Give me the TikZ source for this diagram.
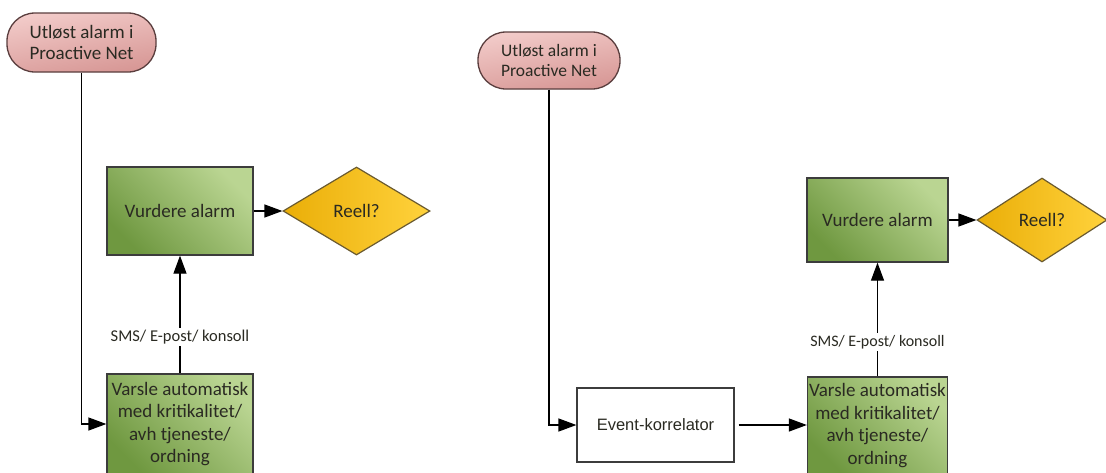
\documentclass[tikz,border=0pt]{standalone}
\usepackage{fontspec}
\setmainfont{Carlito}
\newfontfamily\arialfont{Liberation Sans}
\usetikzlibrary{shapes.geometric,arrows.meta}

\definecolor{termtop}{HTML}{F2CBC9}
\definecolor{termbot}{HTML}{D79795}
\definecolor{termline}{HTML}{5A3E3E}
\definecolor{greenlight}{HTML}{BAD592}
\definecolor{greendark}{HTML}{6F9840}
\definecolor{boxline}{HTML}{3C3C3C}
\definecolor{goldlight}{HTML}{FFD23C}
\definecolor{golddark}{HTML}{EAAE08}
\definecolor{goldline}{HTML}{6A5A30}
\definecolor{inktext}{HTML}{2A2A22}

\tikzset{
  terminal/.style={draw=termline, line width=1.3pt, rounded corners=28pt,
    top color=termtop, bottom color=termbot, shading angle=10,
    align=center, font=\fontsize{19}{20.5}\selectfont, text=inktext, inner sep=0pt},
  process/.style={draw=boxline, line width=1.3pt,
    top color=greenlight, bottom color=greendark, shading angle=-45,
    align=center, font=\fontsize{19}{22.5}\selectfont, text=inktext, inner sep=0pt},
  decision/.style={diamond, draw=goldline, line width=1.2pt,
    left color=golddark, right color=goldlight,
    font=\fontsize{19}{21}\selectfont, text=inktext, inner sep=0pt},
  plainbox/.style={draw=boxline, line width=1.2pt, fill=white,
    font=\arialfont\fontsize{16.5}{18}\selectfont, text=inktext, inner sep=0pt},
  flow/.style={draw=black, line width=1.3pt,
    -{Triangle[length=18pt, width=13pt]}},
  medium/.style={fill=white, inner sep=2pt, font=\fontsize{16.5}{18}\selectfont, text=inktext}
}

\begin{document}
\begin{tikzpicture}[x=1pt, y=-1pt]
  \useasboundingbox (0,0) rectangle (1106,472);
  \clip (0,0) rectangle (1106,472);
  \fill[white] (0,0) rectangle (1106,472);

  % ---- without correlation ----
  \node[terminal, minimum width=149pt, minimum height=59pt] (trigA) at (81.5,42.5)
    {Utløst alarm i\\Proactive Net};
  \node[process, minimum width=146pt, minimum height=88pt] (assessA) at (180,211)
    {Vurdere alarm};
  \node[decision, minimum width=147pt, minimum height=88pt] (realA) at (356.5,211)
    {Reell?};
  \node[process, minimum width=146pt, minimum height=100pt] (notifyA) at (180,424)
    {Varsle automatisk\\med kritikalitet/\\avh tjeneste/\\ordning};
  \coordinate (bendA) at (trigA.south |- notifyA.west);

  \draw[flow] (trigA.south) -- (bendA) -- (notifyA.west);
  \draw[flow] (notifyA.north) -- node[medium, pos=0.31] {SMS/ E-post/ konsoll} (assessA.south);
  \draw[flow] (assessA.east) -- (realA.west);

  % ---- with event correlation ----
  \node[terminal, minimum width=142pt, minimum height=57pt,
        font=\fontsize{17.5}{20}\selectfont] (trigB) at (549,60.5)
    {Utløst alarm i\\Proactive Net};
  \node[plainbox, minimum width=157pt, minimum height=74pt] (corr) at (655.5,425)
    {Event-korrelator};
  \node[process, minimum width=141pt, minimum height=84pt] (assessB) at (877.5,220)
    {Vurdere alarm};
  \node[decision, minimum width=130pt, minimum height=84pt] (realB) at (1042,220)
    {Reell?};
  \node[process, minimum width=140pt, minimum height=97pt] (notifyB) at (877.5,425.5)
    {Varsle automatisk\\med kritikalitet/\\avh tjeneste/\\ordning};
  \coordinate (bendB) at (trigB.south |- corr.west);

  \draw[flow] (trigB.south) -- (bendB) -- (corr.west);
  \draw[flow] ([xshift=4pt]corr.east) -- (notifyB.west |- corr.east);
  \draw[flow] (notifyB.north) -- node[medium, pos=0.30, font=\fontsize{16}{18}\selectfont]
    {SMS/ E-post/ konsoll} (assessB.south);
  \draw[flow] (assessB.east) -- (realB.west);
\end{tikzpicture}
\end{document}
